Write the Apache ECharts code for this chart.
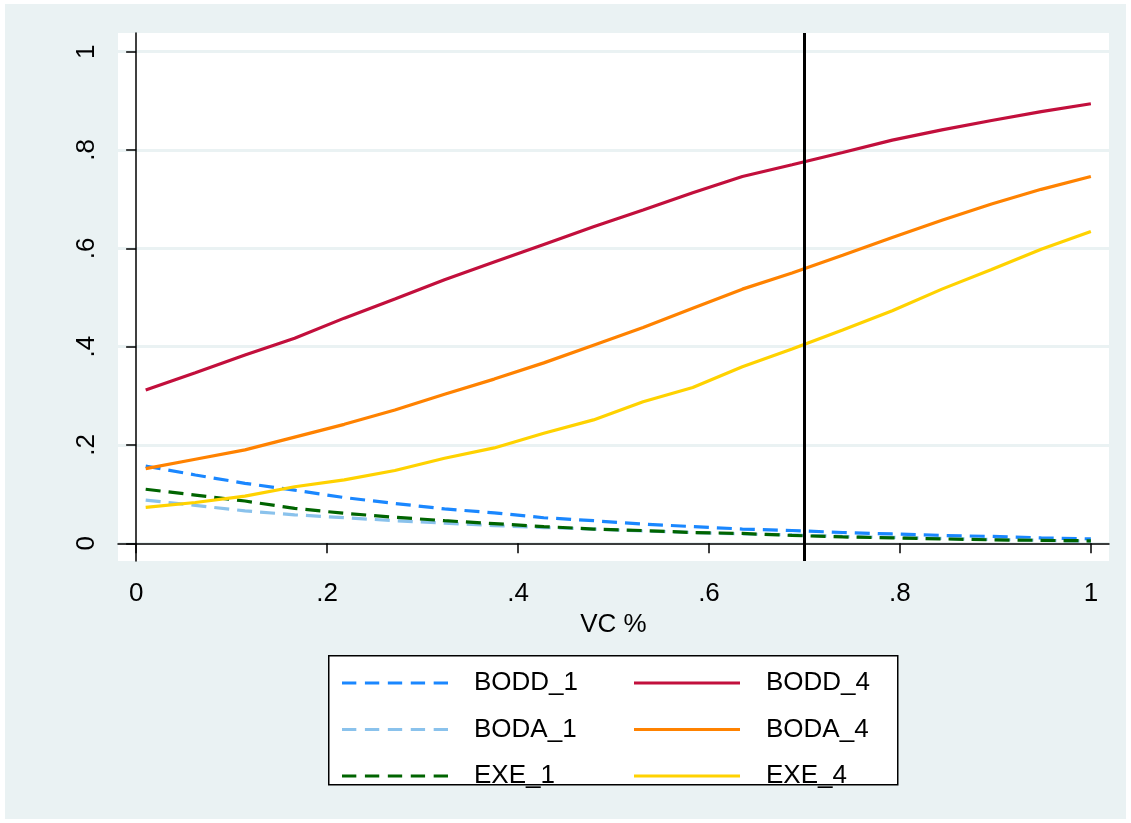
<!DOCTYPE html>
<html>
<head>
<meta charset="utf-8">
<script src="https://cdn.jsdelivr.net/npm/echarts@6/dist/echarts.min.js"></script>
<style>
    html, body { margin: 0; padding: 0; background: #fff; }
    #chart { position: absolute; left: 5px; top: 4px; width: 1121px; height: 815px; }
</style>
</head>
<body>
<div id="chart"></div>
<script>
// x positions (VC %)
const vcShare = [0.01, 0.062, 0.114, 0.166, 0.218, 0.271, 0.323, 0.375, 0.427, 0.479,
    0.531, 0.583, 0.635, 0.687, 0.74, 0.792, 0.844, 0.896, 0.948, 1];

const bodd1 = [0.157, 0.139, 0.122, 0.108, 0.093, 0.081, 0.070, 0.062, 0.052, 0.046,
    0.039, 0.034, 0.029, 0.026, 0.022, 0.019, 0.016, 0.014, 0.011, 0.009];
const boda1 = [0.088, 0.077, 0.066, 0.058, 0.052, 0.046, 0.041, 0.036, 0.032, 0.029,
    0.025, 0.022, 0.019, 0.017, 0.014, 0.012, 0.010, 0.008, 0.006, 0.004];
const exe1 = [0.110, 0.098, 0.086, 0.071, 0.061, 0.053, 0.046, 0.040, 0.034, 0.029,
    0.026, 0.022, 0.020, 0.016, 0.013, 0.011, 0.009, 0.007, 0.006, 0.005];
const bodd4 = [0.312, 0.347, 0.383, 0.417, 0.458, 0.497, 0.536, 0.572, 0.608, 0.644,
    0.678, 0.713, 0.746, 0.770, 0.795, 0.820, 0.841, 0.860, 0.878, 0.894];
const boda4 = [0.152, 0.171, 0.190, 0.216, 0.242, 0.271, 0.303, 0.334, 0.367, 0.403,
    0.439, 0.478, 0.517, 0.550, 0.586, 0.622, 0.657, 0.690, 0.720, 0.746];
const exe4 = [0.073, 0.083, 0.096, 0.115, 0.129, 0.148, 0.173, 0.194, 0.224, 0.251,
    0.288, 0.317, 0.359, 0.395, 0.434, 0.473, 0.517, 0.557, 0.598, 0.634];

const tickValues = [0, 0.2, 0.4, 0.6, 0.8, 1];
const tickLabels = ['0', '.2', '.4', '.6', '.8', '1'];
const cutoff = 0.7;

const font = 'Liberation Sans, Arial, sans-serif';
const bg = '#EAF2F3';

// legend keys: solid bar or five dashes
const solidKey = 'path://M0,0h111v3h-111z';
const dashKey = 'path://M0,0h15v3h-15z M24,0h15v3h-15z M48,0h15v3h-15z M72,0h15v3h-15z M96,0h15v3h-15z';

function pairs(ys) {
    return vcShare.map((x, i) => [x, ys[i]]);
}

function lbl(v) {
    const i = tickValues.findIndex(t => Math.abs(t - v) < 1e-6);
    return i >= 0 ? tickLabels[i] : '';
}

function line(name, ys, color, dashed) {
    return {
        name: name,
        type: 'line',
        data: pairs(ys),
        symbol: 'none',
        lineStyle: {
            color: color,
            width: 3.2,
            type: dashed ? [15, 8] : 'solid',
        },
        itemStyle: { color: color },
    };
}

const series = [
    line('BODD_1', bodd1, '#1A87FF', true),
    line('BODA_1', boda1, '#8AC2EC', true),
    line('EXE_1', exe1, '#006400', true),
    line('BODD_4', bodd4, '#C20F3C', false),
    line('BODA_4', boda4, '#FF8200', false),
    line('EXE_4', exe4, '#FFD200', false),
];
series[0].markLine = {
    silent: true,
    symbol: 'none',
    label: { show: false },
    lineStyle: { color: '#000', width: 3, type: 'solid' },
    data: [{ xAxis: cutoff }],
};

function legendCol(left, names, key) {
    return {
        orient: 'vertical',
        left: left,
        top: 666,
        padding: 0,
        itemWidth: 106,
        itemHeight: 3,
        itemGap: 20.5,
        data: names.map(n => ({ name: n, icon: key })),
        textStyle: {
            fontFamily: font,
            fontSize: 26,
            color: '#000',
            lineHeight: 20,
            padding: [0, 0, 0, 21],
        },
    };
}

const option = {
    animation: false,
    backgroundColor: bg,
    graphic: [{
        type: 'rect',
        left: 323,
        top: 651,
        shape: { width: 569, height: 129 },
        style: { fill: '#fff', stroke: '#000', lineWidth: 1.5 },
        z: 0,
    }],
    legend: [
        legendCol(337, ['BODD_1', 'BODA_1', 'EXE_1'], dashKey),
        legendCol(629, ['BODD_4', 'BODA_4', 'EXE_4'], solidKey),
    ],
    grid: {
        left: 113,
        top: 29,
        right: 17,
        bottom: 258,
        show: true,
        backgroundColor: '#fff',
        borderWidth: 0,
    },
    xAxis: {
        type: 'value',
        min: -0.019,
        max: 1.019,
        name: 'VC %',
        nameLocation: 'middle',
        nameGap: 48,
        nameTextStyle: { fontFamily: font, fontSize: 26, color: '#000' },
        axisLine: { show: true, lineStyle: { color: '#000', width: 1.5 } },
        axisTick: { show: true, length: 10, customValues: tickValues, lineStyle: { color: '#000', width: 1.5 } },
        axisLabel: {
            customValues: tickValues,
            formatter: lbl,
            fontFamily: font,
            fontSize: 26,
            color: '#000',
            margin: 20,
        },
        splitLine: { show: false },
    },
    yAxis: {
        type: 'value',
        min: -0.036,
        max: 1.038,
        axisLine: { show: true, lineStyle: { color: '#000', width: 1.5 } },
        axisTick: { show: true, length: 10, customValues: tickValues, lineStyle: { color: '#000', width: 1.5 } },
        axisLabel: {
            customValues: tickValues,
            formatter: lbl,
            rotate: 90,
            fontFamily: font,
            fontSize: 26,
            color: '#000',
            margin: 18,
        },
        splitLine: { show: true, lineStyle: { color: bg, width: 3 } },
    },
    series: series,
};

const chart = echarts.init(document.getElementById('chart'));
chart.setOption(option);
</script>
</body>
</html>
